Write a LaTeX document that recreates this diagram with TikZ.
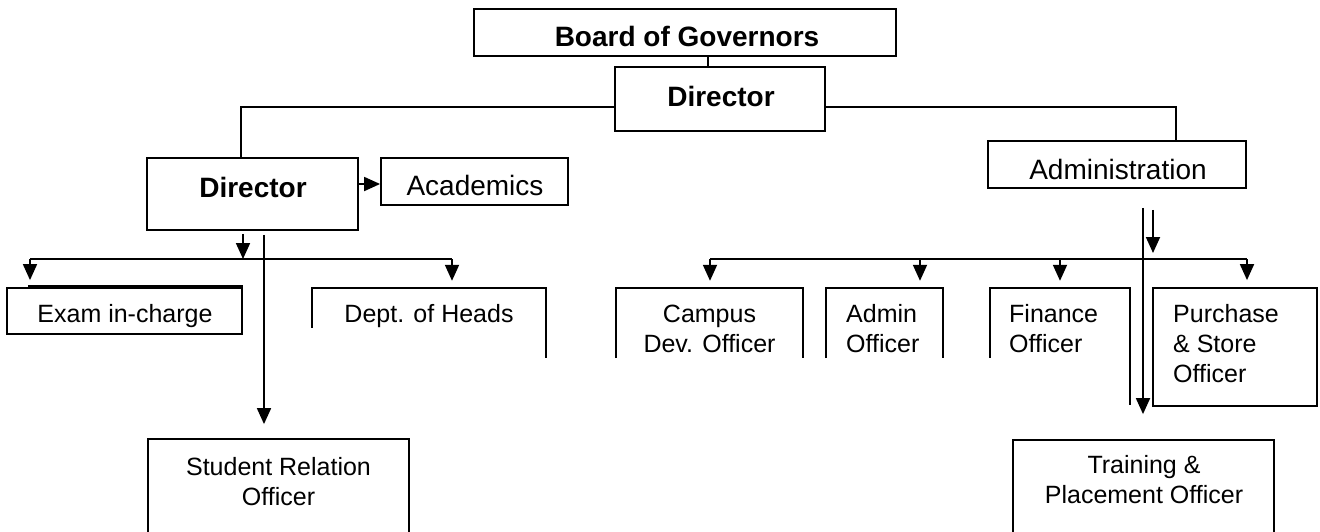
\documentclass[tikz,border=0pt]{standalone}
\usepackage{fontspec}
\setmainfont{Liberation Sans}
\usetikzlibrary{arrows.meta}
\newcommand\mylines[2][c]{\begin{tabular}[t]{@{}#1@{}}#2\end{tabular}}
\begin{document}
\begin{tikzpicture}[x=1pt,y=-1pt,
  box/.style={draw=black,line width=1.8pt,inner sep=0pt},
  ghost/.style={inner sep=0pt},
  edge/.style={line width=1.8pt},
  arr/.style={line width=1.8pt,-{Triangle[length=16pt,width=14pt]}},
  bigb/.style={inner sep=0pt,font=\fontsize{28}{33}\selectfont\bfseries},
  bigr/.style={inner sep=0pt,font=\fontsize{28}{33}\selectfont},
  small/.style={inner sep=0pt,font=\fontsize{25}{30}\selectfont}]
\useasboundingbox (0,0) rectangle (1320,531);
\clip (0,0) rectangle (1320,531);
\fill[white] (0,0) rectangle (1320,531);

% closed boxes
\node[box,minimum width=422pt,minimum height=47pt] (bog) at (685,32.5) {};
\node[box,minimum width=210pt,minimum height=64pt] (dir1) at (720,99) {};
\node[box,minimum width=211pt,minimum height=72pt] (dir2) at (252.5,194) {};
\node[box,minimum width=187pt,minimum height=47pt] (acad) at (474.5,181.5) {};
\node[box,minimum width=258pt,minimum height=47pt] (admin) at (1117,164.5) {};
\node[box,minimum width=235pt,minimum height=46pt] (exam) at (124.5,311) {};
\node[box,minimum width=164pt,minimum height=118pt] (purch) at (1235,347) {};
\node[box,minimum width=261pt,minimum height=106pt] (stud) at (278.5,492) {};
\node[box,minimum width=261pt,minimum height=105pt] (train) at (1143.5,492.5) {};

% open boxes
\node[ghost,minimum width=234pt,minimum height=70pt] (dept) at (429,323) {};
\node[ghost,minimum width=187pt,minimum height=70pt] (campus) at (709.5,323) {};
\node[ghost,minimum width=117pt,minimum height=70pt] (adm) at (884.5,323) {};
\node[ghost,minimum width=140pt,minimum height=117pt] (fin) at (1060,346.5) {};
\draw[edge] ([yshift=-40pt]dept.north west) -- (dept.north west) -- (dept.north east) -- (dept.south east);
\draw[edge] (campus.south west) -- (campus.north west) -- (campus.north east) -- (campus.south east);
\draw[edge] (adm.south west) -- (adm.north west) -- (adm.north east) -- (adm.south east);
\draw[edge] ([yshift=-70pt]fin.north west) -- (fin.north west) -- (fin.north east) -- (fin.south east);
\draw[line width=3pt] ([xshift=22pt,yshift=0.6pt]exam.north west) -- ([yshift=0.6pt]exam.north east);

% texts
\node[bigb,anchor=base] (bogt) at (687,46) {Board of Governors};
\node[bigb,anchor=base] (dir1t) at (721,106) {Director};
\node[bigb,anchor=base] (dir2t) at (253,197) {Director};
\node[bigr,anchor=base] (acadt) at (475,195) {Academics};
\node[bigr,anchor=base] (admint) at (1118,179) {Administration};
\node[small,anchor=base] (examt) at (125,322) {Exam in-charge};
\node[small,anchor=base] (deptt) at (429,322) {Dept. of Heads};
\node[small,anchor=base] (campust) at (709.5,322) {\mylines{Campus\\Dev. Officer}};
\node[small,anchor=base west] (admt) at (846,322) {\mylines[l]{Admin\\Officer}};
\node[small,anchor=base west] (fint) at (1009,322) {\mylines[l]{Finance\\Officer}};
\node[small,anchor=base west] (purcht) at (1173,322) {\mylines[l]{Purchase\\\& Store\\Officer}};
\node[small,anchor=base] (studt) at (278.5,475) {\mylines{Student Relation\\Officer}};
\node[small,anchor=base] (traint) at (1144,473) {\mylines{Training \&\\Placement Officer}};

% top connectors
\draw[edge] ([xshift=23pt]bog.south) -- ([xshift=23pt]bog.south |- dir1.north);
\draw[edge] ([yshift=-8pt]dir1.west) -| ([xshift=-11.5pt]dir2.north);
\draw[edge] ([yshift=-8pt]dir1.east) -| ([xshift=59pt]admin.north);
\draw[arr] ([yshift=10pt]dir2.east) -- ([yshift=10pt]dir2.east -| acad.west);

% left bus
\coordinate (lbl) at (30,259);
\coordinate (lbr) at (452,259);
\draw[edge] (lbl) -- (lbr);
\draw[arr] ([xshift=-9.5pt,yshift=-3pt]dir2.south) -- ([xshift=-9.5pt]dir2.south |- lbl);
\draw[arr,shorten >=7pt] (lbl) -- (lbl |- exam.north);
\draw[arr,shorten >=7pt] (lbr) -- (lbr |- dept.north);
\draw[arr,shorten >=14pt] ([xshift=11.5pt,yshift=-4pt]dir2.south) -- ([xshift=11.5pt]dir2.south |- stud.north);

% right bus
\coordinate (rb1) at (710,259);
\coordinate (rb2) at (920,259);
\coordinate (rb3) at (1060,259);
\coordinate (rb4) at (1247,259);
\draw[edge] (rb1) -- (rb4);
\draw[arr,shorten >=7pt] (rb1) -- (rb1 |- campus.north);
\draw[arr,shorten >=7pt] (rb2) -- (rb2 |- adm.north);
\draw[arr,shorten >=7pt] (rb3) -- (rb3 |- fin.north);
\draw[arr,shorten >=7pt] (rb4) -- (rb4 |- purch.north);
\draw[arr,shorten >=25pt] ([xshift=26pt,yshift=-19pt]admin.south) -- ([xshift=26pt]admin.south |- train.north);
\draw[arr,shorten >=6pt] ([xshift=36pt,yshift=-21pt]admin.south) -- ([xshift=36pt]admin.south |- rb4);
\end{tikzpicture}
\end{document}
